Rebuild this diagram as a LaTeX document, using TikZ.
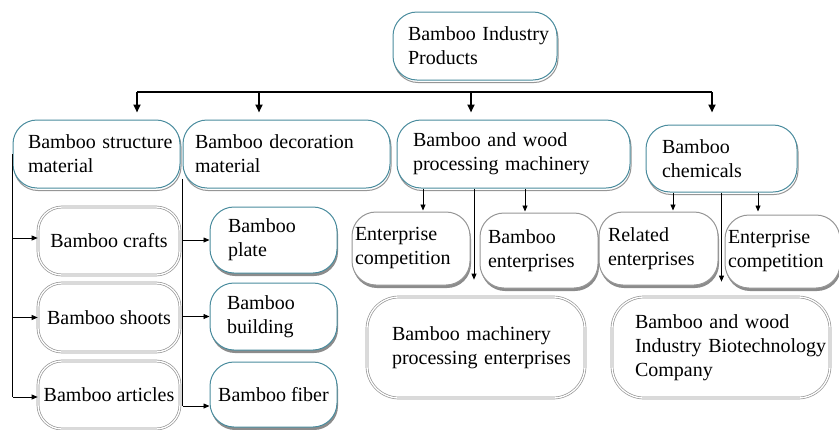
\documentclass[tikz,border=0pt]{standalone}
\usepackage{fontspec}
\setmainfont{Liberation Serif}
\usetikzlibrary{arrows.meta,shadows}
\definecolor{tealb}{RGB}{74,140,158}
\definecolor{greyb}{RGB}{150,150,150}
\begin{document}
\begin{tikzpicture}[x=1pt,y=-1pt,
  font=\fontsize{20}{24}\selectfont,
  base/.style={rounded corners=24pt, inner xsep=0pt, inner ysep=0pt, align=left, fill=white},
  tealbox/.style={base, draw=tealb, line width=1pt,
    general shadow={shadow xshift=1pt, shadow yshift=-2.5pt, draw=greyb, fill=white, line width=1pt}},
  dblbox/.style={base, draw=greyb, line width=0.7pt, double=white, double distance=1.3pt, align=center},
  bigbox/.style={dblbox, rounded corners=32pt, align=left},
  platebox/.style={base, draw=tealb, line width=1pt,
    drop shadow={shadow xshift=1pt, shadow yshift=-3pt, fill=gray, opacity=0.9}},
  entbox/.style={base, draw=greyb, line width=1pt,
    drop shadow={shadow xshift=1pt, shadow yshift=-3pt, fill=gray, opacity=0.9}},
  arr/.style={line width=0.8pt, -{Triangle[width=5pt,length=6pt]}},
  ln/.style={line width=0.8pt},
  barr/.style={line width=2pt, -{Triangle[width=7pt,length=8pt]}}
]
\useasboundingbox (0,0) rectangle (839,429);

% level 0
\node[tealbox, minimum width=164pt, minimum height=68pt, text width=134pt] (top) at (475,46)
  {\mbox{Bamboo Industry}\\Products};

% level 1
\node[tealbox, minimum width=167pt, minimum height=68pt, text width=137pt] (struct) at (96.5,154)
  {\mbox{Bamboo structure}\\material};
\node[tealbox, minimum width=207pt, minimum height=68pt, text width=183pt] (decor) at (286.5,154)
  {\mbox{Bamboo decoration}\\material};
\node[tealbox, minimum width=233pt, minimum height=68pt, text width=201pt] (mach) at (513.5,154)
  {\mbox{Bamboo and wood}\\\mbox{processing machinery}};
\node[tealbox, minimum width=151pt, minimum height=67pt, text width=119pt] (chem) at (721.5,158.5)
  {Bamboo\\chemicals};

% level 2 left
\node[dblbox, minimum width=142pt, minimum height=68pt] (crafts) at (109,241) {Bamboo crafts};
\node[dblbox, minimum width=142pt, minimum height=69pt] (shoots) at (109,317.5) {Bamboo shoots};
\node[dblbox, minimum width=142pt, minimum height=68pt] (articles) at (109,395) {Bamboo articles};

\node[platebox, minimum width=127pt, minimum height=66pt, text width=91pt] (plate) at (273.5,240)
  {Bamboo\\plate};
\node[platebox, minimum width=127pt, minimum height=67pt, text width=93pt] (building) at (273.5,316.5)
  {Bamboo\\building};
\node[platebox, minimum width=127pt, minimum height=65pt, align=center] (fiber) at (273.5,394.5)
  {Bamboo fiber};

% level 2 right
\node[entbox, minimum width=118pt, minimum height=73pt, text width=112pt] (ec1) at (411,248.5)
  {Enterprise\\\mbox{competition}};
\node[entbox, minimum width=118pt, minimum height=75pt, text width=102pt] (be) at (539,250.5)
  {Bamboo\\\mbox{enterprises}};
\node[entbox, minimum width=119pt, minimum height=73pt, text width=101pt] (re) at (658.5,248.5)
  {Related\\\mbox{enterprises}};
\node[entbox, minimum width=115pt, minimum height=73pt, text width=109pt] (ec2) at (782.5,251.5)
  {Enterprise\\\mbox{competition}};

\node[bigbox, minimum width=218pt, minimum height=101pt, text width=168pt] (bmpe) at (476,347.5)
  {\mbox{Bamboo machinery}\\\mbox{processing enterprises}};
\node[bigbox, minimum width=218pt, minimum height=101pt, text width=172pt] (bwib) at (721,347.5)
  {\mbox{Bamboo and wood}\\\mbox{Industry Biotechnology}\\Company};

% top bar
\coordinate (b1) at (137,92);
\coordinate (b2) at (259,92);
\coordinate (b3) at (471,92);
\coordinate (b4) at (712,92);
\draw[line width=2.2pt] (b1) -- (b4);
\draw[barr, shorten >=7pt] (b1) -- (b1 |- struct.north);
\draw[barr, shorten >=7pt] (b2) -- (b2 |- decor.north);
\draw[barr, shorten >=7pt] (b3) -- (b3 |- mach.north);
\draw[barr, shorten >=12pt] (b4) -- (b4 |- chem.north);

% structure branches
\coordinate (s0) at (struct.west);
\coordinate (s1) at ([yshift=-2pt]s0 |- articles.west);
\draw[ln] (s0) -- (s1);
\draw[arr] ([yshift=3pt]s0 |- crafts.west) -- ([yshift=3pt]crafts.west);
\draw[arr] (s0 |- shoots.west) -- (shoots.west);
\draw[arr] (s1) -- ([yshift=-2pt]articles.west);

% decoration branches
\coordinate (d0) at ([yshift=10pt]decor.south west);
\coordinate (d1) at ([yshift=-11.5pt]d0 |- fiber.west);
\draw[ln] (d0) -- (d1);
\draw[arr] (d0 |- plate.west) -- (plate.west);
\draw[arr] (d0 |- building.west) -- (building.west);
\draw[arr] (d1) -- ([yshift=-11.5pt]fiber.west);

% machinery branches
\coordinate (m1) at ([xshift=-90.5pt]mach.south);
\coordinate (m2) at ([xshift=-39.5pt]mach.south);
\coordinate (m3) at ([xshift=11.5pt]mach.south);
\draw[arr, shorten >=1pt] (m1) -- (m1 |- ec1.north);
\draw[arr, shorten >=17pt] (m2) -- (m2 |- bmpe.north);
\draw[arr, shorten >=1pt] (m3) -- (m3 |- be.north);

% chemicals branches
\coordinate (c1) at ([xshift=-48.5pt]chem.south);
\coordinate (c2) at (chem.south);
\coordinate (c3) at ([xshift=36.5pt]chem.south);
\draw[arr, shorten >=1pt] (c1) -- (c1 |- re.north);
\draw[arr, shorten >=15pt] (c2) -- (c2 |- bwib.north);
\draw[arr, shorten >=3pt] (c3) -- (c3 |- ec2.north);
\end{tikzpicture}
\end{document}
